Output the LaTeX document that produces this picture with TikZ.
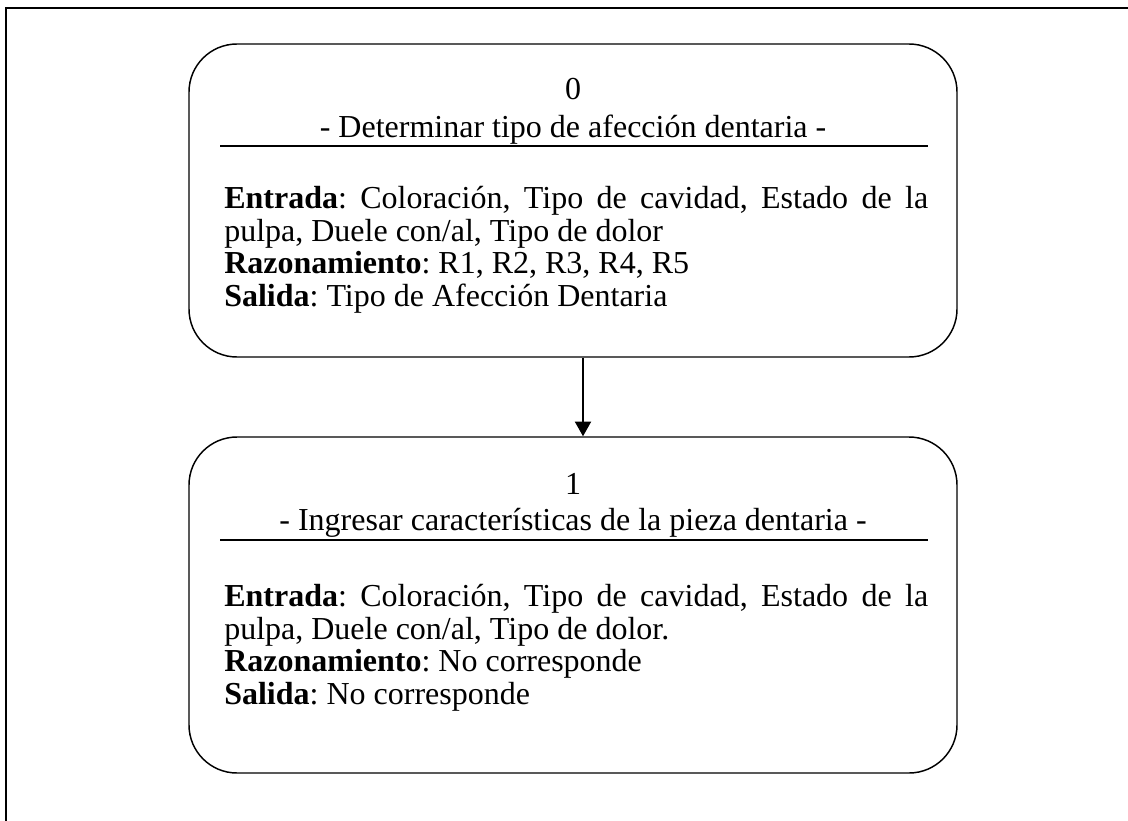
\documentclass[tikz,border=0pt]{standalone}
\usepackage{fontspec}
\setmainfont{Liberation Serif}
\usetikzlibrary{arrows.meta}
\frenchspacing
\begin{document}
\begin{tikzpicture}[x=0.75pt,y=-0.75pt,
  estado/.style={draw,line width=1.1pt,rounded corners=36pt,minimum width=576pt,minimum height=#1,inner sep=0pt},
  txt/.style={inner sep=0pt,font=\fontsize{24}{24.5}\selectfont},
  cuerpo/.style={txt,text width=528pt,align=justify,anchor=north west}]
\useasboundingbox (0,0) rectangle (1128,821);
\draw[line width=1.5pt] (6,821)--(6,8)--(1128,8);
% estado 0
\node[estado=234.75pt] (e0) at (573,200.5) {};
\node[txt,anchor=base] (n0) at (573,99) {0};
\node[txt,anchor=base] (t0) at (573,137) {- Determinar tipo de afección dentaria -};
\draw[line width=1.1pt] (220,146)--(928,146);
\node[cuerpo] (c0) at (224,186) {\textbf{Entrada}: Coloración, Tipo de cavidad, Estado de la\linebreak pulpa, Duele con/al, Tipo de dolor\\
\textbf{Razonamiento}: R1, R2, R3, R4, R5\\
\textbf{Salida}: Tipo de Afección Dentaria};
% estado 1
\node[estado=252pt] (e1) at (573,605) {};
\node[txt,anchor=base] (n1) at (573,494) {1};
\node[txt,anchor=base] (t1) at (573,530) {- Ingresar características de la pieza dentaria -};
\draw[line width=1.1pt] (220,540)--(928,540);
\node[cuerpo] (c1) at (224,584) {\textbf{Entrada}: Coloración, Tipo de cavidad, Estado de la\linebreak pulpa, Duele con/al, Tipo de dolor.\\
\textbf{Razonamiento}: No corresponde\\
\textbf{Salida}: No corresponde};
\draw[line width=1.5pt,-{Triangle[length=11pt,width=12pt]}] ([xshift=7.5pt]e0.south)--([xshift=7.5pt]e1.north);
\end{tikzpicture}
\end{document}
